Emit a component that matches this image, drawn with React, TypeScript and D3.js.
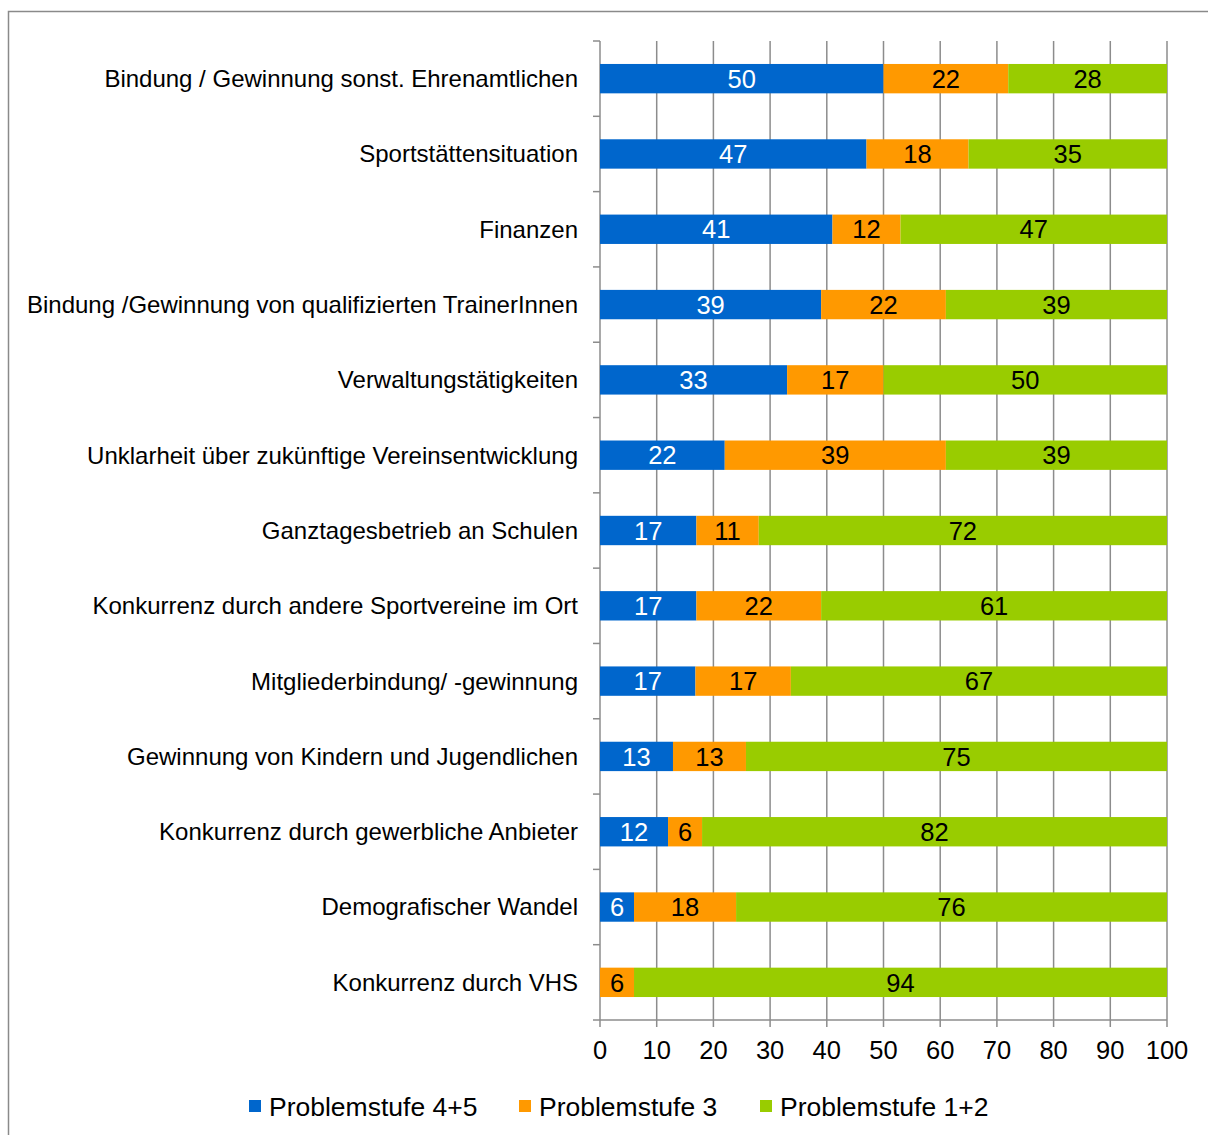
import * as d3 from 'd3';

const categories = [
  'Bindung / Gewinnung sonst. Ehrenamtlichen',
  'Sportstättensituation',
  'Finanzen',
  'Bindung /Gewinnung von qualifizierten TrainerInnen',
  'Verwaltungstätigkeiten',
  'Unklarheit über zukünftige Vereinsentwicklung',
  'Ganztagesbetrieb an Schulen',
  'Konkurrenz durch andere Sportvereine im Ort',
  'Mitgliederbindung/ -gewinnung',
  'Gewinnung von Kindern und Jugendlichen',
  'Konkurrenz durch gewerbliche Anbieter',
  'Demografischer Wandel',
  'Konkurrenz durch VHS',
];
const stufe45 = [50, 47, 41, 39, 33, 22, 17, 17, 17, 13, 12, 6, 0];
const stufe3 = [22, 18, 12, 22, 17, 39, 11, 22, 17, 13, 6, 18, 6];
const stufe12 = [28, 35, 47, 39, 50, 39, 72, 61, 67, 75, 82, 76, 94];
const seriesNames = ['Problemstufe 4+5', 'Problemstufe 3', 'Problemstufe 1+2'];
const xTicks = [0, 10, 20, 30, 40, 50, 60, 70, 80, 90, 100];

const COLORS = ['#0066CC', '#FF9900', '#99CC00'];
const LABEL_FILL = ['#ffffff', '#000000', '#000000'];
const GRID = '#8c8c8c';
const FONT = '"Liberation Sans", Arial, sans-serif';

export default function App() {
  const W = 1208;
  const H = 1135;
  const left = 600;
  const right = 1167;
  const top = 41;
  const bottom = 1020;

  const rows = categories.map((c, i) => ({ c, a: stufe45[i], b: stufe3[i], g: stufe12[i] }));
  const keys = ['a', 'b', 'g'];
  // 100% stacked: each row is normalised to the full axis
  const stacked = d3.stack<any>().keys(keys).offset(d3.stackOffsetExpand)(rows);

  const x = d3.scaleLinear().domain([0, 100]).range([left, right]);
  const y = d3.scaleBand<string>().domain(categories).range([top, bottom]).paddingInner(0.61).paddingOuter(0.305);
  const band = d3.scaleBand<string>().domain(categories).range([top, bottom]);

  const boundaries = categories.map((c) => band(c)!).concat([bottom]);
  const values = [stufe45, stufe3, stufe12];

  return (
    <svg width={W} height={H} style={{ position: 'absolute', left: 0, top: 0, fontFamily: FONT }}>
      <rect x={0} y={0} width={W} height={H} fill="#fff" />
      <rect x={8.5} y={11.5} width={W + 20} height={H + 20} fill="none" stroke="#8a8a8a" strokeWidth={1.5} />

      {xTicks.map((t) => (
        <line key={t} x1={x(t)} x2={x(t)} y1={top} y2={bottom + 7} stroke={GRID} strokeWidth={1.5} />
      ))}
      <line x1={left} x2={right} y1={bottom} y2={bottom} stroke={GRID} strokeWidth={1.5} />
      {boundaries.map((b, i) => (
        <line key={i} x1={left - 7} x2={left} y1={b} y2={b} stroke={GRID} strokeWidth={1.5} />
      ))}

      {stacked.map((s, si) =>
        s.map((d, i) => {
          const x0 = x(d[0] * 100);
          const x1 = x(d[1] * 100);
          const yy = y(categories[i])!;
          const v = values[si][i];
          return (
            <g key={`${si}-${i}`}>
              <rect x={x0} y={yy} width={Math.max(0, x1 - x0)} height={y.bandwidth()} fill={COLORS[si]} />
              {v > 0 && (
                <text
                  x={(x0 + x1) / 2}
                  y={yy + y.bandwidth() / 2}
                  dy="0.36em"
                  textAnchor="middle"
                  fontSize={25.5}
                  fill={LABEL_FILL[si]}
                >
                  {v}
                </text>
              )}
            </g>
          );
        }),
      )}

      {categories.map((c) => (
        <text key={c} x={578} y={y(c)! + y.bandwidth() / 2} dy="0.35em" textAnchor="end" fontSize={24} fill="#000">
          {c}
        </text>
      ))}

      {xTicks.map((t) => (
        <text key={t} x={x(t)} y={1050} dy="0.36em" textAnchor="middle" fontSize={25.5} fill="#000">
          {t}
        </text>
      ))}

      {seriesNames.map((n, i) => {
        const lx = [249, 519, 760][i];
        return (
          <g key={n}>
            <rect x={lx} y={1100} width={12} height={12} fill={COLORS[i]} />
            <text x={lx + 20} y={1106} dy="0.36em" fontSize={26.5} fill="#000">
              {n}
            </text>
          </g>
        );
      })}
    </svg>
  );
}
